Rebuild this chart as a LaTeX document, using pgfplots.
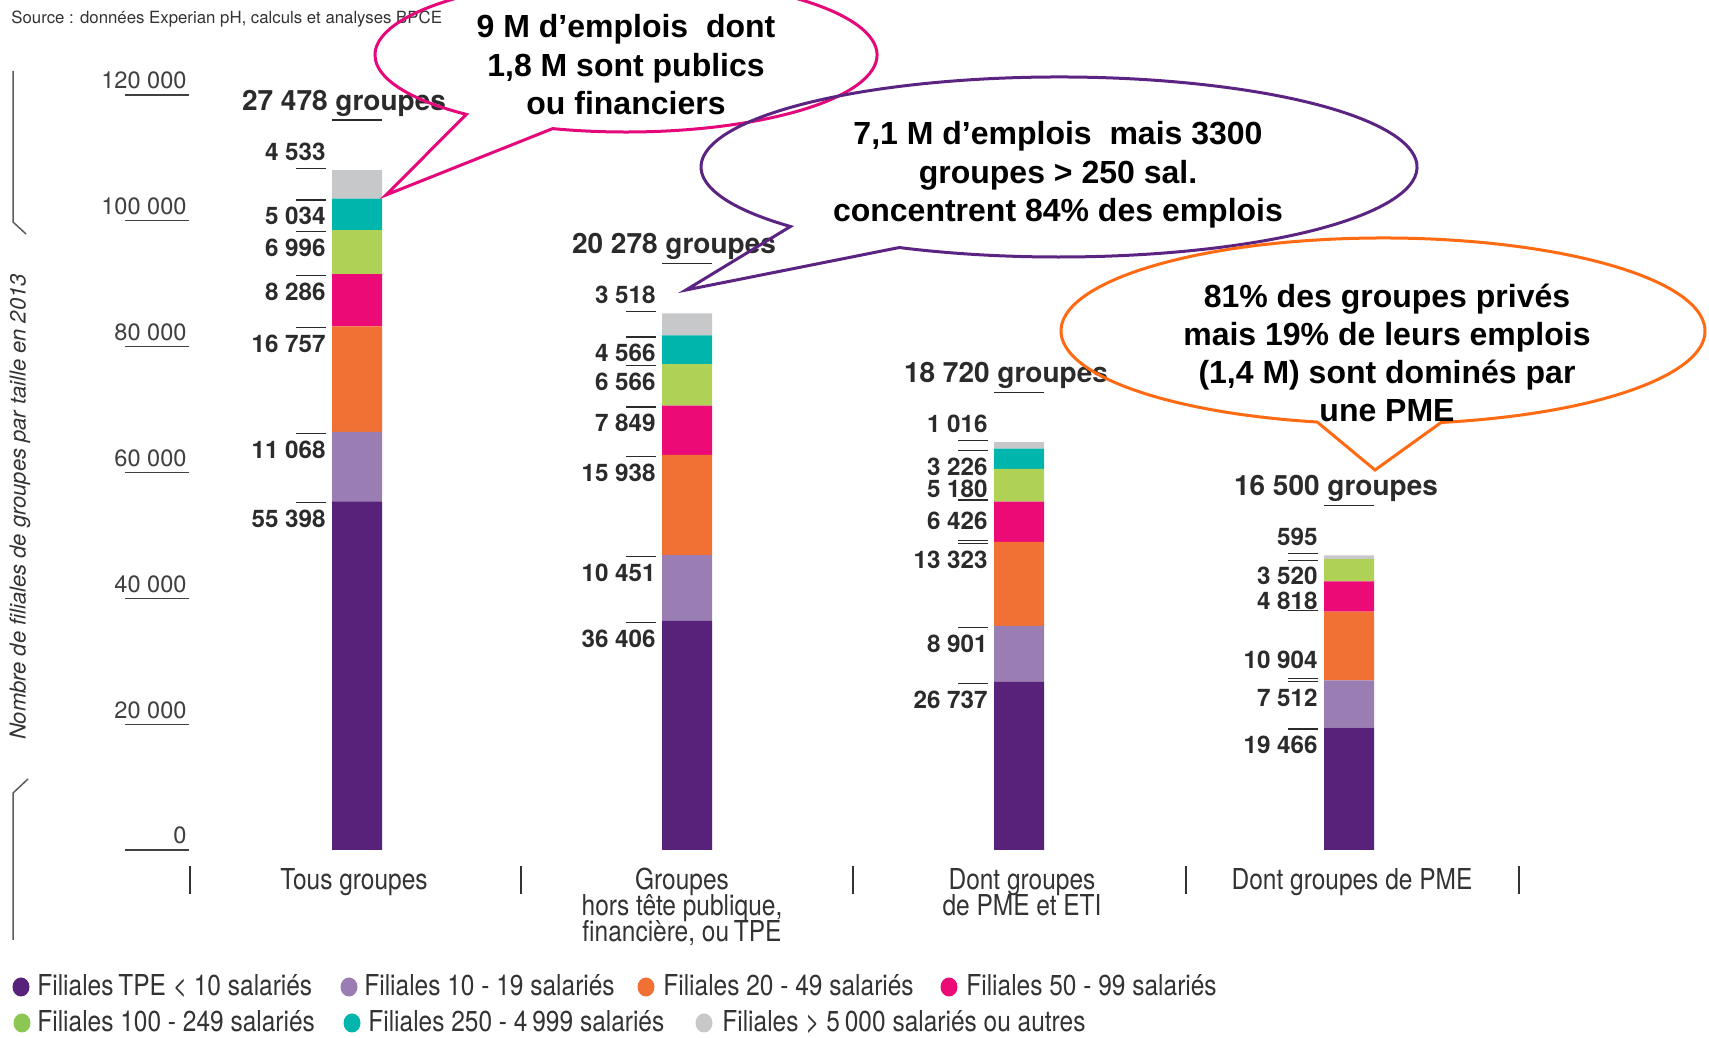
\documentclass[border=0pt]{standalone}
\usepackage{pgfplots}
\pgfplotsset{compat=1.18}
\usepackage{fontspec}
\setmainfont{TeX Gyre Heros}
\newfontfamily\condfont[FakeStretch=0.85]{TeX Gyre Heros}
\newfontfamily\arialfont{Liberation Sans}

\definecolor{cPurple}{HTML}{58217A}
\definecolor{cLav}{HTML}{9A7EB3}
\definecolor{cOrange}{HTML}{F07133}
\definecolor{cPink}{HTML}{EC0A77}
\definecolor{cGreen}{HTML}{AFD256}
\definecolor{cTeal}{HTML}{00B5AC}
\definecolor{cGray}{HTML}{C7C8CA}
\definecolor{legGreen}{HTML}{8DC753}
\definecolor{callPink}{HTML}{E4087A}
\definecolor{callPurple}{HTML}{5C2482}
\definecolor{callOrange}{HTML}{FF6A13}
\definecolor{labc}{HTML}{2B2B2B}
\definecolor{tickc}{HTML}{404040}
\definecolor{catc}{HTML}{333333}

\newcommand{\vfont}{\fontsize{12.1}{13}\selectfont\bfseries}
\newcommand{\gfont}{\fontsize{14}{15}\selectfont\bfseries}
\newcommand{\tkfont}{\fontsize{11.8}{13}\selectfont}
\newcommand{\catfont}{\condfont\fontsize{14.4}{15}\selectfont}
\newcommand{\callfont}{\arialfont\bfseries\fontsize{16}{18}\selectfont}

\tikzset{labline/.style={draw=labc,line width=0.55pt}}

% label below a boundary (overline at boundary, text below)
\newcommand{\lb}[4][-4.25pt]{%
  \draw[labline] (axis cs:{#2-61},#3) ++(0pt,-0.75pt) -- ++(15pt,0pt);
  \node[anchor=north east,inner sep=0pt,text=labc,font=\vfont,yshift=#1] at (axis cs:{#2-31},#3) {#4};}
% label above a boundary (underline at boundary, text above)
\newcommand{\la}[4][5pt]{%
  \draw[labline] (axis cs:{#2-61},#3) ++(0pt,0.75pt) -- ++(15pt,0pt);
  \node[anchor=base east,inner sep=0pt,text=labc,font=\vfont,yshift=#1] at (axis cs:{#2-31},#3) {#4};}
% group total label
\newcommand{\gl}[3]{%
  \draw[labline] (axis cs:{#1-25},#2) ++(0pt,25pt) -- ++(25pt,0pt);
  \node[anchor=base,inner sep=0pt,text=labc,font=\gfont,yshift=30pt] at (axis cs:{#1-13},#2) {#3};}
% y tick
\newcommand{\tk}[2]{%
  \draw[draw=tickc,line width=0.6pt] (axis cs:125,#1) -- (axis cs:189,#1);
  \node[anchor=base east,inner sep=0pt,text=tickc,font=\tkfont,yshift=3pt] at (axis cs:187,#1) {#2};}

\begin{document}
\begin{tikzpicture}
\begin{axis}[
  at={(0pt,0pt)}, anchor=south west,
  width=854.5pt, height=519pt, scale only axis,
  xmin=0, xmax=1709, ymin=-29881, ymax=135099,
  hide axis, clip=false,
  ybar stacked, bar width=50,
  every axis plot/.append style={draw=none},
]
% Filiales TPE < 10
\addplot[fill=cPurple] coordinates {(357,55398) (687,36406) (1019,26737) (1349,19466)};
% 10-19
\addplot[fill=cLav] coordinates {(357,11068) (687,10451) (1019,8901) (1349,7512)};
% 20-49
\addplot[fill=cOrange] coordinates {(357,16757) (687,15938) (1019,13323) (1349,10904)};
% 50-99
\addplot[fill=cPink] coordinates {(357,8286) (687,7849) (1019,6426) (1349,4818)};
% 100-249
\addplot[fill=cGreen] coordinates {(357,6996) (687,6566) (1019,5180) (1349,3520)};
% 250-4999
\addplot[fill=cTeal] coordinates {(357,5034) (687,4566) (1019,3226) (1349,0)};
% > 5000 ou autres
\addplot[fill=cGray] coordinates {(357,4533) (687,3518) (1019,1016) (1349,595)};

% y ticks
\tk{0}{0}
\tk{20000}{20 000}
\tk{40000}{40 000}
\tk{60000}{60 000}
\tk{80000}{80 000}
\tk{100000}{100 000}
\tk{120000}{120 000}

% bar 1
\lb{357}{55398}{55 398}
\lb{357}{66466}{11 068}
\lb{357}{83223}{16 757}
\lb{357}{91509}{8 286}
\lb{357}{98505}{6 996}
\lb{357}{103539}{5 034}
\la{357}{108072}{4 533}
\gl{357}{108072}{27 478 groupes}
% bar 2
\lb{687}{36406}{36 406}
\lb{687}{46857}{10 451}
\lb{687}{62795}{15 938}
\lb{687}{70644}{7 849}
\lb{687}{77210}{6 566}
\lb{687}{81776}{4 566}
\la{687}{85294}{3 518}
\gl{687}{85294}{20 278 groupes}
% bar 3
\lb{1019}{26737}{26 737}
\lb{1019}{35638}{8 901}
\lb{1019}{48961}{13 323}
\la[6pt]{1019}{48961}{6 426}
\la[2.2pt]{1019}{55387}{5 180}
\lb{1019}{63793}{3 226}
\la{1019}{64809}{1 016}
\gl{1019}{64809}{18 720 groupes}
% bar 4
\lb{1349}{19466}{19 466}
\lb{1349}{26978}{7 512}
\la[6pt]{1349}{26978}{10 904}
\la[1.2pt]{1349}{37882}{4 818}
\lb[-3.6pt]{1349}{46220}{3 520}
\la{1349}{46815}{595}
\gl{1349}{46815}{16 500 groupes}
\end{axis}

\begin{scope}[x=0.5pt,y=-0.5pt,shift={(0pt,519pt)}]
% source
\node[anchor=base west,inner sep=0pt,text=catc,font=\fontsize{8.4}{10}\selectfont] at (11,24) {Source : données Experian pH, calculs et analyses BPCE};
% y axis brackets
\draw[draw=catc!80,line width=0.75pt] (13,71) -- (13,222) -- (26,234);
\draw[draw=catc!80,line width=0.75pt] (28,779) -- (13,793) -- (13,940);
\node[rotate=90,inner sep=0pt,text=catc,font=\itshape\fontsize{11}{12}\selectfont] at (20,507) {Nombre de filiales de groupes par taille en 2013};
% separators
\foreach \sx in {190,521,853,1186,1519}{\draw[draw=catc,line width=0.6pt] (\sx,866) -- (\sx,894);}
% category labels
\begin{scope}[every node/.style={anchor=base,inner sep=0pt,text=catc,font=\catfont}]
\node at (354,890) {Tous groupes};
\node at (682,890) {Groupes};
\node at (682,916) {hors tête publique,};
\node at (682,942) {financière, ou\,TPE};
\node at (1022,890) {Dont groupes};
\node at (1022,916) {de PME et ETI};
\node at (1352,890) {Dont groupes de PME};
\end{scope}
% legend
\begin{scope}[every node/.style={anchor=base west,inner sep=0pt,text=catc,font=\catfont}]
\fill[cPurple] (21,987) ellipse[x radius=8.5,y radius=9.5];
\node at (37,996) {Filiales\,TPE < 10 salariés};
\fill[cLav] (349,987) ellipse[x radius=8.5,y radius=9.5];
\node at (364,996) {Filiales 10 - 19 salariés};
\fill[cOrange] (646,987) ellipse[x radius=8.5,y radius=9.5];
\node at (663,996) {Filiales 20 - 49 salariés};
\fill[cPink] (949,987) ellipse[x radius=8.5,y radius=9.5];
\node at (966,996) {Filiales 50 - 99 salariés};
\fill[legGreen] (22,1023) ellipse[x radius=8.5,y radius=9.5];
\node at (37,1032) {Filiales 100 - 249 salariés};
\fill[cTeal] (352,1023) ellipse[x radius=8.5,y radius=9.5];
\node at (368,1032) {Filiales 250 - 4\,999 salariés};
\fill[cGray] (704,1023) ellipse[x radius=8.5,y radius=9.5];
\node at (722,1032) {Filiales > 5\,000 salariés ou autres};
\end{scope}
% callouts
\draw[callPink,line width=1.5pt,line join=miter] (626,55) ++(107:251 and 77) arc[start angle=107,end angle=-230.5,x radius=251,y radius=77] -- (386,195) -- cycle;
\draw[callPurple,line width=1.5pt,line join=miter] (1059,167) ++(116.5:358 and 90) arc[start angle=116.5,end angle=-221.4,x radius=358,y radius=90] -- (686,290) -- cycle;
\draw[callOrange,line width=1.5pt,line join=miter] (1383,331) ++(79.6:322 and 93) arc[start angle=79.6,end angle=-258.2,x radius=322,y radius=93] -- (1375,470) -- cycle;
\begin{scope}[every node/.style={anchor=base,inner sep=0pt,text=black,font=\callfont}]
\node at (626,38) {9 M d’emplois\ \ dont};
\node at (626,77) {1,8 M sont publics};
\node at (626,115) {ou financiers};
\node at (1058,145) {7,1 M d’emplois\ \ mais 3300};
\node at (1058,184) {groupes > 250 sal.};
\node at (1058,222) {concentrent 84\% des emplois};
\node at (1387,308) {81\% des groupes privés};
\node at (1387,346) {mais 19\% de leurs emplois};
\node at (1387,384) {(1,4 M) sont dominés par};
\node at (1387,422) {une PME};
\end{scope}
\end{scope}
\pgfresetboundingbox
\path[use as bounding box] (0pt,0pt) rectangle (854.5pt,519pt);
\end{tikzpicture}
\end{document}
